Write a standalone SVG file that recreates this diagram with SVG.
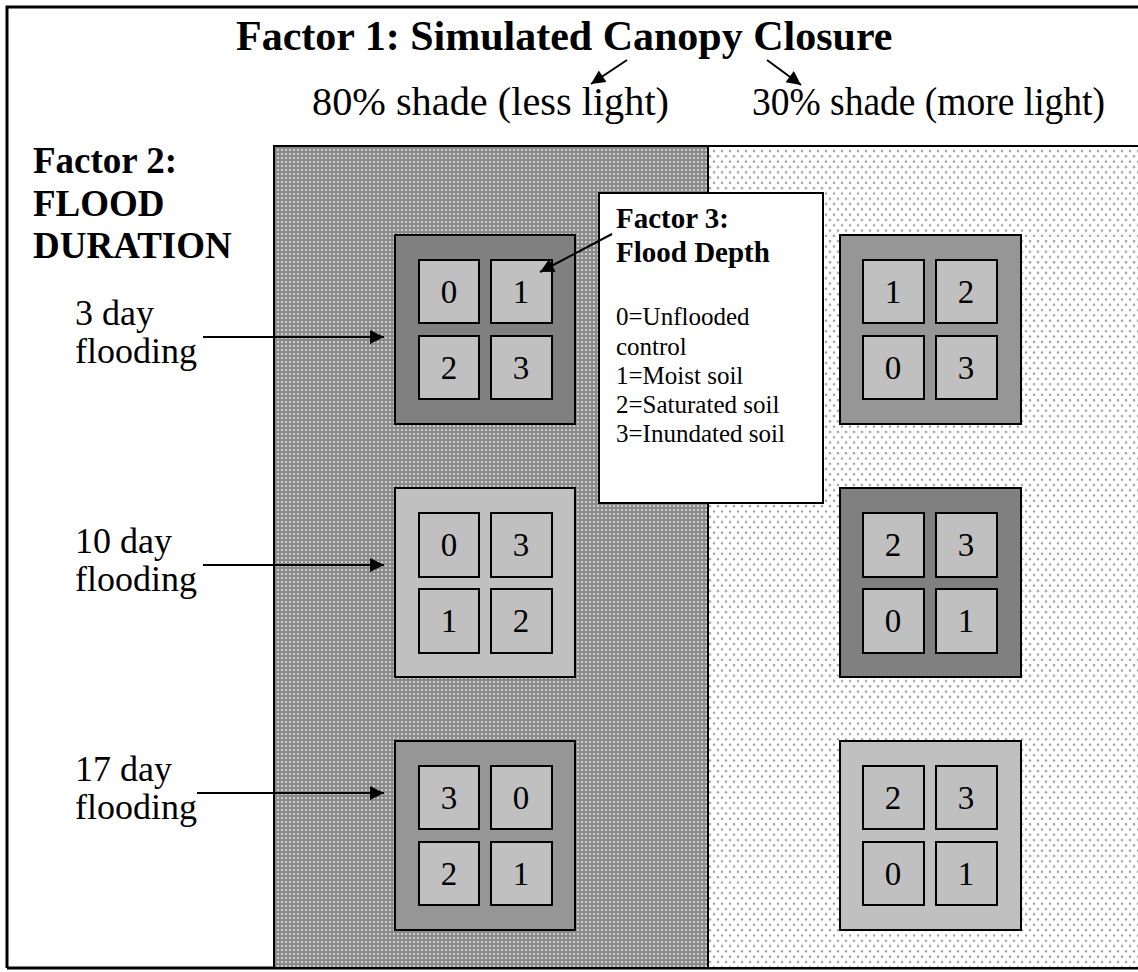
<svg xmlns="http://www.w3.org/2000/svg" width="1138" height="972" viewBox="0 0 1138 972">
<style>
text{font-family:"Liberation Serif","Times New Roman",serif;fill:#000}
.b{font-weight:bold}
.t{font-size:42px}
.s{font-size:39px}
.lbl{font-size:37px}
.day{font-size:36px}
.dig{font-size:33px;text-anchor:middle}
.f3h{font-size:29px;font-weight:bold}
.f3{font-size:25px}
.blk{stroke:#000;stroke-width:2}
.sq{fill:#c0c0c0;stroke:#000;stroke-width:2}
.dk{fill:#808080}
.md{fill:#969696}
.lt{fill:#c0c0c0}
.con{stroke:#000;stroke-width:2;fill:none}
</style>
<defs>
<pattern id="darkpat" width="4" height="4" patternUnits="userSpaceOnUse">
<rect width="4" height="4" fill="#8a8a8a"/>
<circle cx="2" cy="2" r="1.1" fill="#dcdcdc"/>
</pattern>
<pattern id="lightpat" width="8" height="10.6" patternUnits="userSpaceOnUse">
<rect width="8" height="10.6" fill="#fff"/>
<circle cx="2" cy="2.6" r="1.2" fill="#9c9c9c"/>
<circle cx="6" cy="7.9" r="1.2" fill="#9c9c9c"/>
</pattern>
<marker id="ah" viewBox="0 0 10 10" refX="10" refY="5" markerWidth="17" markerHeight="14" markerUnits="userSpaceOnUse" orient="auto">
<path d="M0,0 L10,5 L0,10 z" fill="#000"/>
</marker>
</defs>
<rect width="1138" height="972" fill="#fff"/>
<g id="frame">
<path d="M7,968 L7,7 L1138,7" fill="none" stroke="#000" stroke-width="3"/>
<line x1="7" y1="968" x2="1138" y2="968" stroke="#000" stroke-width="3"/>
</g>
<g id="panel-80">
<rect x="274" y="146" width="434" height="822" fill="url(#darkpat)" stroke="#000" stroke-width="2"/>
</g>
<g id="panel-30">
<rect x="708" y="146" width="440" height="822" fill="url(#lightpat)" stroke="#000" stroke-width="2"/>
</g>
<g id="title">
<text class="b t" x="236" y="50">Factor 1: Simulated Canopy Closure</text>
</g>
<g id="label-80">
<text class="s" x="312" y="115" textLength="357" lengthAdjust="spacingAndGlyphs">80% shade (less light)</text>
</g>
<g id="label-30">
<text class="s" x="752" y="115" textLength="353" lengthAdjust="spacingAndGlyphs">30% shade (more light)</text>
</g>
<g id="factor2">
<text class="b lbl" x="33" y="173">Factor 2:</text>
<text class="b lbl" x="33" y="216">FLOOD</text>
<text class="b lbl" x="33" y="258">DURATION</text>
</g>
<g id="label-3day">
<text class="day" x="75" y="325">3 day</text>
<text class="day" x="75" y="363">flooding</text>
</g>
<g id="label-10day">
<text class="day" x="75" y="553">10 day</text>
<text class="day" x="75" y="591">flooding</text>
</g>
<g id="label-17day">
<text class="day" x="75" y="781">17 day</text>
<text class="day" x="75" y="819">flooding</text>
</g>
<g id="block-80-3day">
<rect class="blk dk" x="395" y="235" width="180" height="189"/>
<rect class="sq" x="419" y="260" width="60" height="63"/><text class="dig" x="449" y="303">0</text>
<rect class="sq" x="491" y="260" width="61" height="63"/><text class="dig" x="521" y="303">1</text>
<rect class="sq" x="419" y="336" width="60" height="63"/><text class="dig" x="449" y="379">2</text>
<rect class="sq" x="491" y="336" width="61" height="63"/><text class="dig" x="521" y="379">3</text>
</g>
<g id="block-80-10day">
<rect class="blk lt" x="395" y="488" width="180" height="189"/>
<rect class="sq" x="419" y="513" width="60" height="64"/><text class="dig" x="449" y="556">0</text>
<rect class="sq" x="491" y="513" width="61" height="64"/><text class="dig" x="521" y="556">3</text>
<rect class="sq" x="419" y="589" width="60" height="64"/><text class="dig" x="449" y="632">1</text>
<rect class="sq" x="491" y="589" width="61" height="64"/><text class="dig" x="521" y="632">2</text>
</g>
<g id="block-80-17day">
<rect class="blk md" x="395" y="741" width="180" height="189"/>
<rect class="sq" x="419" y="766" width="60" height="63"/><text class="dig" x="449" y="809">3</text>
<rect class="sq" x="491" y="766" width="61" height="63"/><text class="dig" x="521" y="809">0</text>
<rect class="sq" x="419" y="842" width="60" height="63"/><text class="dig" x="449" y="885">2</text>
<rect class="sq" x="491" y="842" width="61" height="63"/><text class="dig" x="521" y="885">1</text>
</g>
<g id="block-30-3day">
<rect class="blk md" x="840" y="235" width="181" height="189"/>
<rect class="sq" x="863" y="260" width="61" height="63"/><text class="dig" x="893" y="303">1</text>
<rect class="sq" x="936" y="260" width="61" height="63"/><text class="dig" x="966" y="303">2</text>
<rect class="sq" x="863" y="336" width="61" height="63"/><text class="dig" x="893" y="379">0</text>
<rect class="sq" x="936" y="336" width="61" height="63"/><text class="dig" x="966" y="379">3</text>
</g>
<g id="block-30-10day">
<rect class="blk dk" x="840" y="488" width="181" height="189"/>
<rect class="sq" x="863" y="513" width="61" height="64"/><text class="dig" x="893" y="556">2</text>
<rect class="sq" x="936" y="513" width="61" height="64"/><text class="dig" x="966" y="556">3</text>
<rect class="sq" x="863" y="589" width="61" height="64"/><text class="dig" x="893" y="632">0</text>
<rect class="sq" x="936" y="589" width="61" height="64"/><text class="dig" x="966" y="632">1</text>
</g>
<g id="block-30-17day">
<rect class="blk lt" x="840" y="741" width="181" height="189"/>
<rect class="sq" x="863" y="766" width="61" height="63"/><text class="dig" x="893" y="809">2</text>
<rect class="sq" x="936" y="766" width="61" height="63"/><text class="dig" x="966" y="809">3</text>
<rect class="sq" x="863" y="842" width="61" height="63"/><text class="dig" x="893" y="885">0</text>
<rect class="sq" x="936" y="842" width="61" height="63"/><text class="dig" x="966" y="885">1</text>
</g>
<g id="factor3-legend">
<rect x="599" y="193" width="224" height="310" fill="#fff" stroke="#000" stroke-width="2"/>
<text class="f3h" x="616" y="228">Factor 3:</text>
<text class="f3h" x="616" y="262">Flood Depth</text>
<text class="f3" x="616" y="325">0=Unflooded</text>
<text class="f3" x="616" y="355">control</text>
<text class="f3" x="616" y="384">1=Moist soil</text>
<text class="f3" x="616" y="413">2=Saturated soil</text>
<text class="f3" x="616" y="442">3=Inundated soil</text>
</g>
<g id="connectors">
<line class="con" x1="627" y1="60" x2="591" y2="84" marker-end="url(#ah)"/>
<line class="con" x1="767" y1="60" x2="801" y2="85" marker-end="url(#ah)"/>
<line class="con" x1="203" y1="337" x2="384" y2="337" marker-end="url(#ah)"/>
<line class="con" x1="203" y1="565" x2="384" y2="565" marker-end="url(#ah)"/>
<line class="con" x1="197" y1="793" x2="384" y2="793" marker-end="url(#ah)"/>
<line class="con" x1="612" y1="234" x2="540" y2="272" marker-end="url(#ah)"/>
</g>
</svg>
